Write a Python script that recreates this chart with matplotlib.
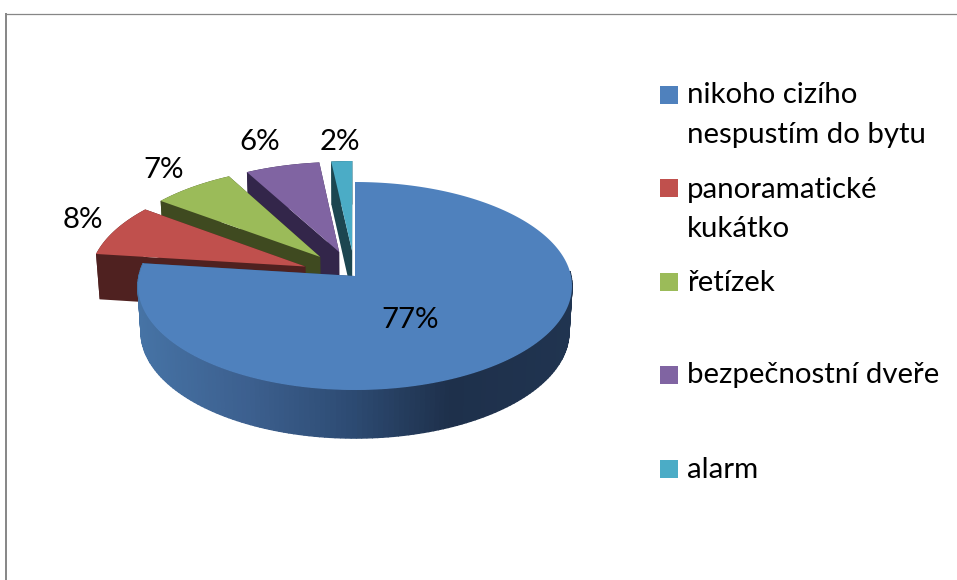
import numpy as np
import matplotlib
matplotlib.use("Agg")
import matplotlib.pyplot as plt
from matplotlib.patches import Rectangle, Polygon

# ---- data ----
categories = ["nikoho cizího\nnespustím do bytu", "panoramatické\nkukátko", "řetízek",
              "bezpečnostní dveře", "alarm"]
values = [77.0, 8.15, 6.9, 6.2, 1.75]
explode = [0.0, 0.25, 0.25, 0.25, 0.25]

# ---- styles / layout ----
top_colors = ["#4F81BD", "#C0504D", "#9BBB59", "#8064A2", "#4BACC6"]
wall_colors = ["#264263", "#4F2120", "#3F4A20", "#33264A", "#1C4650"]
label_pos = [(410.5, 328), (83, 228), (164, 178), (260, 150), (340, 150)]
legend_sq_y = [86, 179, 273, 366, 460]
legend_base_y = [[103, 143], [198, 237], [291], [383], [478]]
grad_x = [138, 250, 350, 450, 572]
grad_c = [(70, 115, 165), (60, 95, 142), (45, 75, 115), (30, 48, 75), (32, 52, 80)]

W, H = 957, 580
CX, CY, RX, RY, K = 355.0, 286.0, 217.0, 104.0, 0.096
DEPTH, SX, SY = 46.0, 0.986, 0.02
FS = 21.2

fig = plt.figure(figsize=(W / 100, H / 100), dpi=100, facecolor="white")
ax = fig.add_axes([0, 0, 1, 1])
ax.axis("off")
ax.set_xlim(0, W)
ax.set_ylim(H, 0)


def project(u, v):
    w = 1 + K * v
    return CX + RX * u * np.sqrt(1 - K ** 2) / w, CY - RY * (v + K) / w


def drop(x, y):
    return CX + (x - CX) * SX, y + DEPTH + (y - CY) * SY


def grad_color(x):
    return tuple(np.interp(x, grad_x, [c[k] for c in grad_c]) / 255 for k in range(3))


fracs = np.array(values, float) / sum(values)
ends = np.cumsum(fracs) * 2 * np.pi
starts = ends - fracs * 2 * np.pi

for i in range(len(values) - 1, -1, -1):
    a, b, e = starts[i], ends[i], explode[i]
    mid = (a + b) / 2
    ou, ov = e * np.sin(mid), e * np.cos(mid)
    th = np.linspace(a, b, max(8, int((b - a) * 45)))
    rx_, ry_ = project(np.sin(th) + ou, np.cos(th) + ov)
    ax_, ay_ = project(ou, ov)
    bx, by = drop(rx_, ry_)
    bax, bay = drop(ax_, ay_)
    z = 2 * (len(values) - i)
    for (px, py, qx, qy) in [(rx_[0], ry_[0], bx[0], by[0]), (rx_[-1], ry_[-1], bx[-1], by[-1])]:
        ax.add_patch(Polygon([(ax_, ay_), (px, py), (qx, qy), (bax, bay)], closed=True,
                             fc=wall_colors[i], ec="none", zorder=z))
    # rim wall: blue in overlapping shaded strips, the rest as one flat shape
    if i == 0:
        for j in range(len(th) - 1):
            if th[j] < 0.48 * np.pi:
                continue
            col = grad_color((rx_[j] + rx_[j + 1]) / 2)
            ax.add_patch(Polygon([(rx_[j], ry_[j]), (rx_[j + 1], ry_[j + 1]),
                                  (bx[j + 1], by[j + 1]), (bx[j], by[j])], closed=True,
                                 fc=col, ec=col, lw=1.0, zorder=z))
    else:
        rim = np.column_stack([np.r_[rx_, bx[::-1]], np.r_[ry_, by[::-1]]])
        ax.add_patch(Polygon(rim, closed=True, fc=wall_colors[i], ec="none", zorder=z))
    ax.add_patch(Polygon(np.column_stack([np.r_[ax_, rx_], np.r_[ay_, ry_]]), closed=True,
                         fc=top_colors[i], ec="none", zorder=z + 1))

# percentage labels
for v, (lx, ly) in zip(values, label_pos):
    ax.text(lx, ly, f"{round(v)}%", ha="center", va="baseline", fontsize=FS,
            family="Lato", color="black", zorder=30)

# legend
for cat, col, sy, bases in zip(categories, top_colors, legend_sq_y, legend_base_y):
    ax.add_patch(Rectangle((660, sy), 18, 18, fc=col, ec="none", zorder=30))
    for line, by_ in zip(cat.split("\n"), bases):
        ax.text(687, by_, line, ha="left", va="baseline", fontsize=FS,
                family="Lato", color="black", zorder=30)

# chart frame
ax.plot([6.3, 6.3], [13, H], color="#868686", lw=1.4, zorder=1, solid_capstyle="butt")
ax.plot([5.5, W], [13.5, 13.5], color="#868686", lw=0.9, zorder=1, solid_capstyle="butt")

fig.savefig("out.png", dpi=100, facecolor="white")
